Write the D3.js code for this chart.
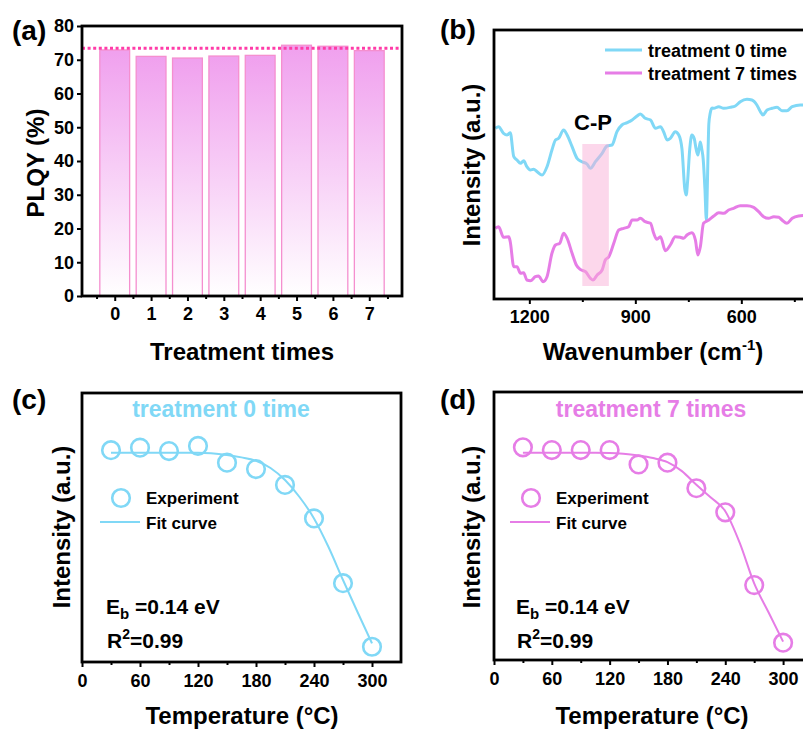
<!DOCTYPE html>
<html>
<head>
<meta charset="utf-8">
<script src="https://cdn.jsdelivr.net/npm/d3@7"></script>
<style>
body { margin: 0; background: #fff; }
svg text { font-family: "Liberation Sans", Arial, sans-serif; font-weight: bold; }
</style>
</head>
<body>
<svg id="fig" width="803" height="730"></svg>
<script>
"use strict"

// (a) PLQY vs treatment times
const treatTimes = [0, 1, 2, 3, 4, 5, 6, 7]
const plqy = [72.9, 71.0, 70.5, 71.1, 71.3, 74.3, 74.0, 72.7]
const plqyRef = 73.4
const plqyTicks = [0, 10, 20, 30, 40, 50, 60, 70, 80]

// (b) FTIR spectra, intensity in arbitrary units
const wn0 = [1296, 1287, 1273, 1263, 1254, 1244, 1235, 1225, 1216, 1207, 1197, 1188, 1178, 1164, 1150,
  1136, 1126, 1117, 1103, 1093, 1079, 1065, 1051, 1037, 1027, 1013, 994, 980, 966, 952, 938, 923, 909,
  895, 886, 872, 857, 843, 829, 820, 810, 801, 787, 777, 768, 760, 756, 752, 746, 740, 733, 728, 723,
  719, 716, 712, 708, 703, 699, 697, 694, 692, 688, 683, 678, 664, 650, 631, 617, 603, 584, 570, 556,
  546, 539, 527, 513, 499, 485, 471, 456, 433, 400]
const int0 = [170.7, 172.3, 165.7, 164, 166.3, 142.3, 139, 135.7, 138.3, 132.3, 129, 129.7, 127.3, 124, 132.3,
  149, 159, 160.7, 169, 164, 152.3, 140.7, 137.3, 135, 130.7, 137.3, 145.7, 153, 154, 167.3, 174, 176.3, 179,
  183, 185, 180.7, 179, 170.7, 172.3, 167.3, 159, 160.7, 167.3, 164, 150, 110, 104, 118, 150, 164, 160, 150, 144,
  152, 157, 150, 140, 110, 79, 100, 150, 175, 186, 191, 190.7, 192.3, 190.7, 191.7, 193, 197.3, 199.7, 199, 194,
  187.3, 184, 189, 190.7, 191.7, 188.3, 188.3, 192.3, 194, 194]

const wn7 = [1296, 1287, 1273, 1258, 1254, 1244, 1235, 1225, 1216, 1207, 1197, 1183, 1174, 1161, 1150,
  1136, 1126, 1114, 1103, 1093, 1079, 1067, 1056, 1041, 1027, 1020, 1008, 994, 985, 975, 961, 947, 933,
  919, 909, 895, 886, 872, 857, 848, 839, 829, 815, 801, 787, 773, 763, 754, 740, 730, 723, 716, 707,
  692, 678, 664, 650, 636, 622, 603, 584, 565, 551, 537, 523, 508, 494, 485, 471, 456, 438, 400]
const int7 = [70.7, 72.3, 61.7, 62.3, 57.3, 32.3, 32.3, 25.7, 26.3, 19, 18.3, 22.3, 23, 17.3, 22.3,
  45.7, 54, 55.7, 65.7, 60.7, 45.7, 34, 29.7, 27.3, 20.7, 19, 24, 29, 39, 42.3, 55.7, 69, 70.7,
  72.3, 79, 79, 80.7, 77.3, 75.7, 65.7, 59.7, 62.3, 48.3, 54, 62.3, 61.7, 60.7, 64, 66.3, 59, 44, 52.3, 75.7,
  79, 83, 86.3, 85.7, 89, 90.7, 93.3, 93.3, 91.7, 87.3, 82.3, 80.7, 82.3, 81.7, 79, 75.7, 80.7, 83, 84]

const cpBand = [1050, 975]
const cpLevels = [13, 155]

// (c), (d) temperature dependent PL
const temps = [30, 60, 90, 120, 150, 180, 210, 240, 270, 300]
const pl0 = [1.00, 1.012, 0.996, 1.020, 0.941, 0.911, 0.836, 0.678, 0.372, 0.072]
const pl7 = [1.008, 0.995, 0.995, 0.995, 0.927, 0.935, 0.814, 0.700, 0.355, 0.082]
const fitTemps = [30, 60, 90, 120, 150, 165, 180, 195, 210, 225, 240, 255, 270, 285, 300]
const fit0 = [0.988, 0.988, 0.988, 0.988, 0.977, 0.966, 0.950, 0.916, 0.859, 0.779, 0.678, 0.543, 0.387, 0.236, 0.088]
const fit7 = [0.982, 0.982, 0.982, 0.981, 0.969, 0.957, 0.938, 0.895, 0.830, 0.770, 0.705, 0.555, 0.363, 0.225, 0.087]
const tempTicks = [0, 60, 120, 180, 240, 300]
const tempMinor = [30, 90, 150, 210, 270]

const BLUE = "#80d8f6"
const PINK = "#e67de6"

const svg = d3.select("#fig")

const defs = svg.append("defs")
const grad = defs.append("linearGradient").attr("id", "barFill")
  .attr("x1", 0).attr("y1", 0).attr("x2", 0).attr("y2", 1)
grad.append("stop").attr("offset", "0%").attr("stop-color", "#f0a0ee")
grad.append("stop").attr("offset", "100%").attr("stop-color", "#ffffff")

function frame(x0, y0, x1, y1) {
  svg.append("rect").attr("x", x0).attr("y", y0)
    .attr("width", x1 - x0).attr("height", y1 - y0)
    .attr("fill", "none").attr("stroke", "#000").attr("stroke-width", 2.8)
}

function styleAxis(ax) {
  ax.select(".domain").remove()
  ax.selectAll("line").attr("stroke-width", 2)
  ax.selectAll("text").attr("font-size", 18).attr("fill", "#000")
}

function bottomAxis(scale, yPos, major, minor, pad) {
  let ax = svg.append("g").attr("transform", "translate(0," + yPos + ")")
    .call(d3.axisBottom(scale).tickValues(major).tickSize(5).tickPadding(pad).tickFormat(d3.format("d")))
  styleAxis(ax)
  let mi = svg.append("g").attr("transform", "translate(0," + yPos + ")")
    .call(d3.axisBottom(scale).tickValues(minor).tickSize(3).tickFormat(""))
  styleAxis(mi)
}

function label(x, y, txt, size, opts = {}) {
  let t = svg.append("text").attr("x", x).attr("y", y).attr("font-size", size)
    .attr("fill", opts.fill || "#000").attr("text-anchor", opts.anchor || "start").text(txt)
  return t
}

function yTitle(x, y, txt) {
  svg.append("text").attr("transform", "translate(" + x + "," + y + ") rotate(-90)")
    .attr("text-anchor", "middle").attr("font-size", 24).text(txt)
}

// ---------- (a) ----------
const xA = d3.scaleLinear().domain([-0.9, 7.9]).range([82, 402])
const yA = d3.scaleLinear().domain([0, 80]).range([296, 26])
const barW = xA(0.82) - xA(0)

svg.append("g").selectAll("rect").data(treatTimes).join("rect")
  .attr("x", (d) => xA(d - 0.41))
  .attr("y", (d, i) => yA(plqy[i]))
  .attr("width", barW)
  .attr("height", (d, i) => yA(0) - yA(plqy[i]))
  .attr("fill", "url(#barFill)")
  .attr("stroke", "#f58fcf").attr("stroke-width", 1.3)

svg.append("line").attr("x1", xA(-0.9)).attr("x2", xA(7.9))
  .attr("y1", yA(plqyRef)).attr("y2", yA(plqyRef))
  .attr("stroke", "#ff3ca8").attr("stroke-width", 3).attr("stroke-dasharray", "3 2.6")

frame(82, 26, 402, 296)
let axA = svg.append("g").attr("transform", "translate(82,0)")
  .call(d3.axisLeft(yA).tickValues(plqyTicks).tickSize(5).tickPadding(3))
styleAxis(axA)
bottomAxis(xA, 296, treatTimes, treatTimes.map((d) => d - 0.5).concat([7.5]), 6)

label(12, 40, "(a)", 28)
yTitle(44, 163, "PLQY (%)")
label(242, 360, "Treatment times", 24, { anchor: "middle" })

// ---------- (b) ----------
const xB = d3.scaleLinear().domain([1300, 400]).range([494, 812])
const yB = d3.scaleLinear().domain([0, 269]).range([299, 30])
const lineB = d3.line().x((d) => xB(d[0])).y((d) => yB(d[1])).curve(d3.curveMonotoneX)

svg.append("path").attr("d", lineB(d3.zip(wn0, int0)))
  .attr("fill", "none").attr("stroke", BLUE).attr("stroke-width", 3)
svg.append("path").attr("d", lineB(d3.zip(wn7, int7)))
  .attr("fill", "none").attr("stroke", PINK).attr("stroke-width", 3)

svg.append("rect").attr("x", xB(cpBand[0])).attr("width", xB(cpBand[1]) - xB(cpBand[0]))
  .attr("y", yB(cpLevels[1])).attr("height", yB(cpLevels[0]) - yB(cpLevels[1]))
  .attr("fill", "#f9b0d8").attr("opacity", 0.5)
label(593, 130, "C-P", 22, { anchor: "middle" })

frame(494, 30, 812, 299)
bottomAxis(xB, 299, [1200, 900, 600], [1050, 750, 450], 6)

svg.append("line").attr("x1", 605).attr("x2", 642).attr("y1", 50).attr("y2", 50)
  .attr("stroke", BLUE).attr("stroke-width", 3)
label(648, 56.5, "treatment 0 time", 18)
svg.append("line").attr("x1", 605).attr("x2", 642).attr("y1", 73).attr("y2", 73)
  .attr("stroke", PINK).attr("stroke-width", 3)
label(648, 80, "treatment 7 times", 18)

label(440, 39, "(b)", 28)
yTitle(480, 165, "Intensity (a.u.)")
let wnT = label(653, 360, "Wavenumber (cm", 24, { anchor: "middle" })
wnT.append("tspan").attr("font-size", 15).attr("dy", -10).text("-1")
wnT.append("tspan").attr("dy", 10).text(")")

// ---------- (c) and (d) ----------
function tempPanel(x0, x1, y0, y1, pl, fit, color, title, titleX, lx, lab) {
  let x = d3.scaleLinear().domain([0, 330]).range([x0, x1])
  let y = d3.scaleLinear().domain([0, 1.27]).range([y1, y0])
  let line = d3.line().x((d) => x(d[0])).y((d) => y(d[1])).curve(d3.curveMonotoneX)

  svg.append("path").attr("d", line(d3.zip(fitTemps, fit)))
    .attr("fill", "none").attr("stroke", color).attr("stroke-width", 2)
  svg.append("g").selectAll("circle").data(d3.zip(temps, pl)).join("circle")
    .attr("cx", (d) => x(d[0])).attr("cy", (d) => y(d[1])).attr("r", 8.8)
    .attr("fill", "none").attr("stroke", color).attr("stroke-width", 2.6)

  frame(x0, y0, x1, y1)
  bottomAxis(x, y1, tempTicks, tempMinor, 7)

  label(titleX, 417, title, 23, { anchor: "middle", fill: color })

  // legend
  svg.append("circle").attr("cx", lx + 21).attr("cy", 498).attr("r", 8.8)
    .attr("fill", "none").attr("stroke", color).attr("stroke-width", 2.6)
  label(lx + 46, 504, "Experiment", 17)
  svg.append("line").attr("x1", lx).attr("x2", lx + 40).attr("y1", 522).attr("y2", 522)
    .attr("stroke", color).attr("stroke-width", 2)
  label(lx + 46, 529, "Fit curve", 17)

  let eb = label(lx + 6, 614, "E", 21)
  eb.append("tspan").attr("font-size", 15).attr("dy", 5).text("b")
  eb.append("tspan").attr("dy", -5).text(" =0.14 eV")
  let r2 = label(lx + 7, 648, "R", 21)
  r2.append("tspan").attr("font-size", 14).attr("dy", -9).text("2")
  r2.append("tspan").attr("dy", 9).text("=0.99")

  label(lab[0], 409, lab[1], 28)
  yTitle(lab[2], 527, "Intensity (a.u.)")
  label(lab[3], 724, "Temperature (°C)", 24, { anchor: "middle" })
}

tempPanel(82, 401, 393, 662, pl0, fit0, BLUE, "treatment 0 time", 221, 100, [12, "(c)", 70, 242])
tempPanel(494, 812, 392, 660, pl7, fit7, PINK, "treatment 7 times", 651, 510, [440, "(d)", 480, 652])
</script>
</body>
</html>
